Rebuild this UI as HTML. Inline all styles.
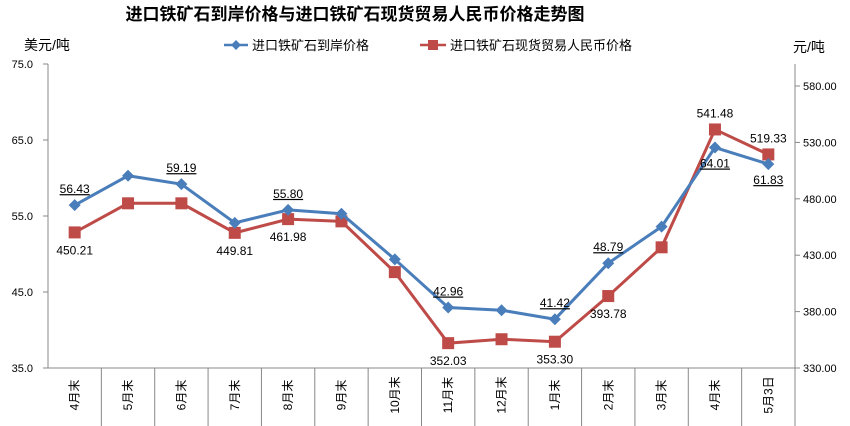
<!DOCTYPE html>
<html><head><meta charset="utf-8">
<style>
body{margin:0;background:#fff;}
svg{display:block;font-family:"Liberation Sans","Noto Sans CJK SC",sans-serif;}
</style></head>
<body>
<svg id="chart" width="850" height="426" viewBox="0 0 850 426">
<text x="355" y="20" text-anchor="middle" font-size="17" font-weight="bold" fill="#000">进口铁矿石到岸价格与进口铁矿石现货贸易人民币价格走势图</text>
<text x="24" y="50" font-size="14" fill="#000">美元/吨</text>
<text x="793" y="52" font-size="14" fill="#000">元/吨</text>
<g>
<line x1="224" y1="45" x2="248" y2="45" stroke="#4a7ebb" stroke-width="2.5"/>
<path d="M236 40 L241 45 L236 50 L231 45 Z" fill="#4a7ebb"/>
<text x="252" y="50" font-size="13">进口铁矿石到岸价格</text>
</g>
<g>
<line x1="420" y1="45" x2="446" y2="45" stroke="#be4b48" stroke-width="2.5"/>
<rect x="428" y="40" width="10" height="10" fill="#be4b48"/>
<text x="450" y="50" font-size="13">进口铁矿石现货贸易人民币价格</text>
</g>
<g id="axes"></g>
<g id="marks"></g>
</svg>
<script>
const categories=["4月末","5月末","6月末","7月末","8月末","9月末","10月末","11月末","12月末","1月末","2月末","3月末","4月末","5月3日"];
const usdValues=[56.43,60.3,59.19,54.1,55.80,55.3,49.3,42.96,42.6,41.42,48.79,53.6,64.01,61.83];
const rmbValues=[450.21,476,476,449.81,461.98,460,415,352.03,355.5,353.30,393.78,437,541.48,519.33];
const leftTicks=[35,45,55,65,75];
const rightTicks=[330,380,430,480,530,580];
const usdLabelIdx=[0,2,4,7,9,10,12,13];
const usdLabelAbove=[1,1,1,1,1,1,0,0];
const rmbLabelIdx=[0,3,4,7,9,10,12,13];
const rmbLabelAbove=[0,0,0,0,0,0,1,1];

const X0=48,X1=795,Y0=368,Y1=64;
const cw=(X1-X0)/categories.length;
const xPos=i=>X0+cw*(i+0.5);
const yL=v=>Y0-(v-35)/(75-35)*(Y0-Y1);
const yR=v=>Y0-(v-330)/(580-330)*(Y0-86)*(250/250);
const NS="http://www.w3.org/2000/svg";
const axes=document.getElementById('axes'),marks=document.getElementById('marks');
function mk(tag,attrs,parent){const e=document.createElementNS(NS,tag);for(const k in attrs)e.setAttribute(k,attrs[k]);parent.appendChild(e);return e;}

let e=mk('line',{x1:X0,y1:Y1,x2:X0,y2:Y0,stroke:'#888'},axes);


e=mk('line',{x1:X1,y1:Y1,x2:X1,y2:Y0,stroke:'#888'},axes);


e=mk('line',{x1:X0,y1:Y0,x2:X1,y2:Y0,stroke:'#888'},axes);


leftTicks.forEach(v=>{
  mk('line',{x1:X0-5,y1:yL(v),x2:X0,y2:yL(v),stroke:'#888'},axes);
  const t=mk('text',{x:33,y:yL(v)+4,'text-anchor':'end','font-size':11},axes);
  t.textContent=v.toFixed(1);
  
  
});
rightTicks.forEach(v=>{
  mk('line',{x1:X1,y1:yR(v),x2:X1+5,y2:yR(v),stroke:'#888'},axes);
  const t=mk('text',{x:803,y:yR(v)+4,'font-size':11},axes);
  t.textContent=v.toFixed(2);
  
  
});
categories.forEach((c,i)=>{
  mk('line',{x1:X0+cw*(i+1),y1:Y0,x2:X0+cw*(i+1),y2:426,stroke:'#888'},axes);
  const t=mk('text',{x:0,y:0,'font-size':12,'text-anchor':'middle',transform:`translate(${xPos(i)+4},395) rotate(-90)`},axes);
  t.textContent=c;
  
  
});
// red series
let p=mk('polyline',{points:rmbValues.map((v,i)=>xPos(i)+','+yR(v)).join(' '),fill:'none',stroke:'#be4b48','stroke-width':3},marks);


rmbValues.forEach((v,i)=>{
  const r=mk('rect',{x:xPos(i)-6,y:yR(v)-6,width:12,height:12,fill:'#be4b48'},marks);
  
  
});
// blue series
p=mk('polyline',{points:usdValues.map((v,i)=>xPos(i)+','+yL(v)).join(' '),fill:'none',stroke:'#4a7ebb','stroke-width':3},marks);


usdValues.forEach((v,i)=>{
  const x=xPos(i),y=yL(v);
  const d=mk('path',{d:`M${x} ${y-6}L${x+6} ${y}L${x} ${y+6}L${x-6} ${y}Z`,fill:'#4a7ebb'},marks);
  
  
});
usdLabelIdx.forEach((i,k)=>{
  const y=yL(usdValues[i])+(usdLabelAbove[k]?-12:20);
  const t=mk('text',{x:xPos(i),y:y,'text-anchor':'middle','font-size':12,'text-decoration':'underline'},marks);
  t.textContent=usdValues[i].toFixed(2);
  
  
});
rmbLabelIdx.forEach((i,k)=>{
  const y=yR(rmbValues[i])+(rmbLabelAbove[k]?-12:22);
  const t=mk('text',{x:xPos(i),y:y,'text-anchor':'middle','font-size':12},marks);
  t.textContent=rmbValues[i].toFixed(2);
  
  
});
</script>
</body></html>
